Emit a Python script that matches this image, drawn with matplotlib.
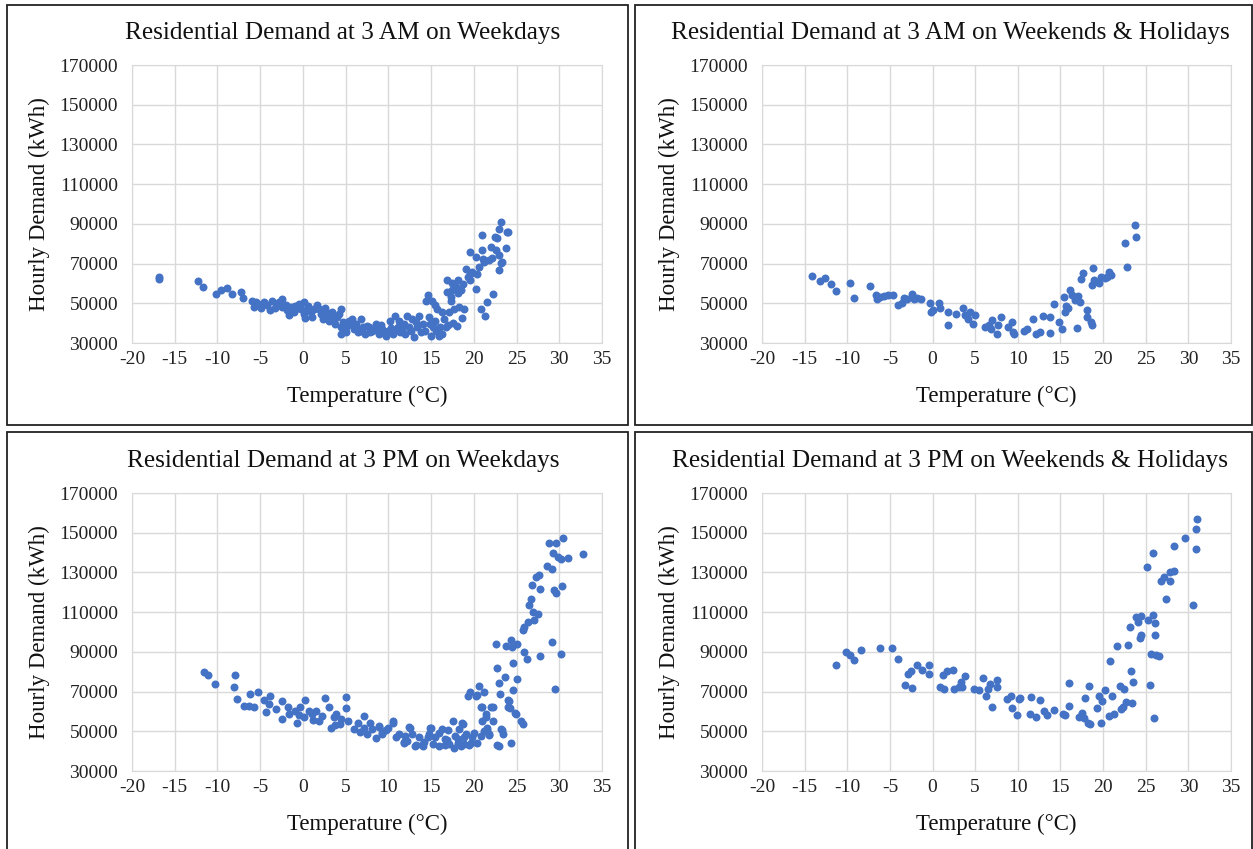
import matplotlib
matplotlib.use("Agg")
import matplotlib.pyplot as plt
from matplotlib.patches import Rectangle

# Residential demand at 3 AM on weekdays
am_wd_temp = [-16.8, -16.8, -12.3, -11.7, -10.2, -9.6, -8.9, -8.3, -7.3, -7.0,
              -5.9, -5.7, -5.2, -4.6, -3.8, -3.6, -3.0, -2.5, -2.4, -2.0,
              -1.6, -1.4, -0.9, -0.5, -0.2, 0.1, 0.1, 0.5, 0.3, 0.9,
              1.1, 1.6, 1.9, 2.1, 2.3, 2.7, 3.0, 3.2, 3.4, 3.8,
              4.0, 4.2, 4.5, 4.4, 4.5, 5.0, 5.4, 5.8, 6.0, 6.2,
              6.5, 6.8, 7.0, 7.3, 7.5, 7.9, 8.3, 8.5, 8.9, 9.3,
              9.7, 9.9, 10.2, 10.5, 10.8, 11.1, 11.4, 11.8, 12.0, 12.2,
              12.4, 12.8, 13.0, 13.4, 13.6, 13.8, 14.1, 14.4, 14.6, 14.8,
              15.0, 15.1, 15.2, 15.4, 15.5, 15.7, 15.9, 16.1, 16.3, 16.3,
              16.7, 16.9, 17.1, 16.9, 17.3, 17.5, 17.7, 17.9, 18.1, 18.3,
              18.5, 18.7, 18.9, 19.1, 19.3, 19.5, 19.6, 19.5, 20.2, 20.2,
              20.4, 20.6, 20.8, 21.0, 21.0, 21.2, 21.3, 21.6, 21.8, 22.0,
              22.3, 22.5, 22.6, 22.9, 23.0, 23.2, 23.2, 23.0, 23.8, 23.9,
              -5.5, -4.9, -4.2, -3.3, -2.8, -1.9, -1.1, -0.6, 0.6, 1.3,
              2.6, 2.9, 3.6, 4.7, 5.2, 5.6, 6.3, 6.9, 7.7, 8.1,
              8.7, 9.1, 9.5, 10.3, 10.7, 11.2, 11.6, 12.6, 13.2, 14.3,
              14.9, 15.6, 16.5, 17.0, 17.6, 18.0, 18.6, 19.8, 21.1, 22.1,
              22.7, 24.0, 23.3, 17.3, 17.5, 18.2]
am_wd_demand = [63200, 62100, 61200, 58200, 54800, 56500, 57700, 54800, 55500, 52800,
                51400, 48000, 49700, 50600, 46400, 51100, 49700, 52300, 48100, 48900,
                44200, 48100, 48400, 49700, 47200, 50600, 44700, 46400, 42700, 45500,
                43000, 48900, 47200, 44700, 42200, 45500, 41300, 43800, 45500, 39600,
                43000, 44700, 47200, 37900, 34600, 35400, 41300, 42200, 37100, 39600,
                35400, 42200, 37900, 34600, 38800, 35400, 37100, 39600, 34600, 37100,
                33700, 36200, 41300, 34600, 43800, 37900, 35400, 39600, 34600, 43800,
                37900, 42200, 32900, 37900, 43800, 35400, 39600, 51400, 54000, 43000,
                33700, 51400, 37900, 48900, 41300, 47200, 33700, 37900, 45500, 34600,
                37900, 55700, 45500, 61600, 51400, 56500, 47200, 58200, 61600, 48100,
                56500, 59900, 47200, 67500, 63300, 64900, 61600, 75900, 57300, 73400,
                64900, 68300, 47200, 84400, 76800, 70800, 43800, 50600, 71700, 78400,
                54800, 83200, 76800, 67000, 74200, 91100, 70300, 87200, 77600, 86000,
                50500, 47800, 49000, 47500, 50800, 46500, 45800, 47800, 48700, 46900,
                47800, 44000, 42300, 40800, 38500, 40000, 37000, 36000, 38000, 35800,
                36700, 39000, 35000, 37500, 35800, 41000, 36500, 36000, 40500, 35800,
                39500, 36000, 42000, 39000, 40000, 38500, 42500, 66000, 72500, 73000,
                82700, 85900, 70700, 53000, 60000, 55000]

# Residential demand at 3 AM on weekends & holidays
am_we_temp = [-14.1, -13.2, -12.6, -11.9, -11.3, -9.7, -9.2, -7.3, -6.6, -6.5,
              -6.2, -5.7, -5.2, -4.6, -4.0, -3.6, -3.3, -3.0, -2.4, -2.2,
              -1.8, -1.4, -0.3, -0.2, 0.1, 0.8, 0.9, 1.8, 1.8, 2.8,
              3.6, 3.8, 4.2, 4.4, 4.8, 5.0, 6.2, 6.6, 7.0, 6.8,
              7.5, 7.7, 8.0, 8.9, 9.3, 9.4, 9.6, 10.7, 11.1, 11.8,
              12.1, 12.6, 13.0, 13.8, 13.8, 14.2, 14.8, 15.2, 15.4, 15.5,
              15.7, 15.9, 16.1, 16.3, 16.7, 16.9, 17.1, 17.3, 17.4, 17.6,
              18.1, 18.1, 18.6, 18.7, 18.7, 18.8, 18.9, 19.5, 19.8, 20.2,
              20.4, 20.7, 20.9, 22.6, 22.8, 23.7, 23.9]
am_we_demand = [63900, 61400, 62500, 59500, 56300, 60000, 52800, 58700, 54100, 52400,
                53300, 53600, 54100, 54400, 49100, 50200, 52900, 52400, 54600, 52400,
                52900, 52300, 49900, 45700, 46500, 49900, 47400, 45700, 38900, 44800,
                47400, 44000, 42300, 45700, 39800, 44300, 38100, 38900, 41500, 37300,
                34400, 38900, 43200, 38100, 40600, 35600, 34400, 36100, 37300, 42300,
                34400, 35600, 43500, 43200, 35100, 49600, 40600, 36900, 53300, 45700,
                48500, 47400, 56600, 54100, 51600, 37800, 53600, 50400, 62000, 65400,
                46500, 43200, 40600, 38900, 59200, 67900, 61700, 60000, 63000, 62500,
                63400, 65900, 64200, 80200, 68100, 89500, 83300]

# Residential demand at 3 PM on weekdays
pm_wd_temp = [-11.6, -11.1, -10.3, -7.9, -8.1, -7.7, -6.9, -6.3, -6.2, -5.7,
              -5.2, -4.6, -4.3, -3.8, -4.0, -3.2, -2.5, -2.4, -1.8, -1.6,
              -0.9, -0.7, -0.3, 0.3, 0.1, 0.7, 1.1, 1.5, 1.9, 2.6,
              3.0, 3.3, 3.6, 3.9, 4.3, 4.5, 5.0, 5.0, 5.3, 6.0,
              6.5, 7.1, 7.2, 7.5, 7.9, 8.1, 8.9, 9.3, 9.7, 10.0,
              10.5, 10.9, 11.3, 11.8, 12.0, 12.5, 12.8, 13.1, 13.6, 14.0,
              14.6, 15.0, 15.2, 15.5, 15.9, 16.3, 16.6, 17.1, 17.6, 17.7,
              18.1, 18.3, 18.5, 18.7, 18.9, 19.1, 19.3, 19.6, 19.8, 20.2,
              20.4, 20.6, 20.8, 20.8, 21.0, 21.2, 21.2, 21.4, 21.6, 21.8,
              22.0, 22.2, 22.6, 22.7, 22.9, 23.0, 23.1, 23.2, 23.4, 23.6,
              23.8, 24.1, 24.2, 24.3, 24.4, 24.5, 24.6, 24.6, 24.9, 25.1,
              25.1, 25.7, 25.8, 25.9, 25.9, 26.2, 26.3, 26.4, 26.7, 26.8,
              26.9, 27.1, 27.3, 27.5, 27.6, 27.8, 27.8, 28.6, 28.8, 29.1,
              29.2, 29.3, 29.4, 29.5, 29.6, 29.8, 29.6, 30.2, 30.3, 30.2,
              30.4, 31.0, 32.8,
              8.9, 9.3, 10.6, 11.8, 12.4, 13.2, 13.9, 14.7, 14.9, 15.9,
              16.6, 17.0, 17.8, 18.2, 18.6, 18.8, 19.4, 20.0, 20.4, 21.0,
              21.4, 21.6, 21.8, 22.2, 22.7, 23.3, 24.0, 24.0, 24.8, 25.5,
              -0.5, 1.2, 2.2, 3.8, 6.7, 8.5, 12.2, 14.2, 16.9, 19.7]
pm_wd_demand = [79700, 78100, 73800, 78100, 72200, 66200, 62900, 62900, 68800, 62000,
                69600, 65700, 59500, 67900, 63700, 61200, 65400, 56100, 62000, 58700,
                60400, 54400, 62000, 65700, 57000, 60400, 58700, 60400, 55300, 66800,
                62000, 51600, 57000, 58700, 53600, 56100, 67100, 61700, 55300, 51100,
                54400, 57800, 51900, 48500, 54400, 51100, 52800, 48500, 50600, 51900,
                54400, 46900, 48500, 44300, 47700, 51900, 48500, 42600, 46900, 42600,
                46900, 51600, 43500, 46900, 42600, 51100, 46000, 43500, 55300, 41800,
                46000, 51100, 42600, 53600, 43500, 48500, 67900, 69600, 46900, 67900,
                44300, 73000, 62000, 47700, 55300, 69600, 50200, 58700, 51900, 48500,
                62000, 55300, 94100, 81800, 42600, 74200, 68800, 51100, 48500, 77200,
                93200, 65400, 61700, 95800, 44300, 92400, 84300, 70800, 58700, 94100,
                76200, 100800, 53900, 102500, 89900, 86500, 105000, 113500, 116800, 123900,
                110100, 105900, 127800, 109200, 128600, 121900, 87700, 133200, 144600, 94900,
                131500, 139900, 121000, 71300, 119400, 137900, 144600, 136600, 123100, 88700,
                147200, 137100, 139300,
                52300, 49000, 55000, 44800, 52300, 43100, 43100, 48500, 51800, 49000,
                43100, 50700, 47500, 44000, 54000, 47000, 43100, 49000, 68300, 62400,
                57400, 50700, 48200, 62400, 43100, 50700, 65800, 62400, 59000, 55000,
                58000, 55500, 57500, 53000, 49500, 46500, 45000, 44500, 45500, 44000]

# Residential demand at 3 PM on weekends & holidays
pm_we_temp = [-11.3, -10.2, -9.7, -9.2, -8.4, -6.2, -4.7, -4.0, -3.2, -2.9,
              -2.5, -2.4, -1.8, -1.2, -0.4, -0.4, 0.9, 1.2, 1.4, 1.7,
              2.4, 2.5, 3.1, 3.3, 3.8, 3.5, 4.9, 5.4, 5.9, 6.3,
              6.5, 6.7, 7.0, 7.6, 7.5, 8.7, 9.2, 9.3, 9.9, 10.1,
              10.3, 11.4, 11.6, 12.1, 12.6, 13.1, 13.4, 14.2, 15.3, 15.5,
              16.0, 16.0, 17.2, 17.5, 17.8, 17.9, 18.2, 18.3, 18.5, 19.3,
              19.5, 19.7, 19.9, 20.2, 20.7, 20.8, 21.0, 21.3, 21.6, 22.0,
              22.1, 22.3, 22.5, 22.7, 22.9, 23.2, 23.3, 23.4, 23.5, 23.9,
              24.1, 24.3, 24.4, 24.5, 25.1, 25.3, 25.5, 25.6, 25.8, 25.9,
              26.0, 26.1, 26.1, 26.2, 26.6, 26.8, 27.1, 27.4, 27.9, 27.9,
              28.3, 28.3, 29.6, 30.6, 30.9, 30.9, 31.0]
pm_we_demand = [83600, 89900, 88200, 86000, 91000, 91700, 91900, 86500, 73500, 78600,
                80600, 71800, 83600, 80900, 78900, 83400, 72200, 78400, 71300, 80200,
                81100, 71300, 72200, 74700, 77600, 72200, 71300, 71000, 76700, 67900,
                71300, 73800, 62000, 75900, 72500, 66200, 67900, 61500, 58300, 66200,
                66700, 58700, 67400, 57300, 65700, 60300, 58000, 60700, 58700, 58300,
                62500, 74200, 57000, 59000, 56600, 66600, 54400, 72700, 53900, 61700,
                67900, 54400, 65400, 70800, 57500, 85600, 67900, 58700, 92900, 72700,
                61200, 62400, 71300, 64600, 93600, 102500, 80600, 64100, 74700, 107600,
                105000, 96900, 98300, 107900, 132800, 106200, 73300, 89000, 108800, 139900,
                56600, 104300, 98300, 88200, 87800, 125600, 127800, 116500, 125600, 130300,
                130800, 143500, 147200, 113800, 141800, 151700, 157000]

x_ticks = list(range(-20, 36, 5))
y_ticks = list(range(30000, 170001, 20000))

titles = ["Residential Demand at 3 AM on Weekdays",
          "Residential Demand at 3 AM on Weekends & Holidays",
          "Residential Demand at 3 PM on Weekdays",
          "Residential Demand at 3 PM on Weekends & Holidays"]
x_label = "Temperature (\u00b0C)"
y_label = "Hourly Demand (kWh)"

plt.rcParams['font.family'] = ['Liberation Serif', 'DejaVu Serif']
plt.rcParams['axes.unicode_minus'] = False

W, H = 1253, 849
fig = plt.figure(figsize=(W / 100, H / 100), dpi=100)

# pixel layout: frame box, plot area, title centre x
layout = [
    ((7, 5, 628, 425), (132, 65, 602, 343), 343),
    ((635, 5, 1252, 425), (762, 65, 1231, 343), 950),
    ((7, 432, 628, 852), (132, 493, 602, 771), 343),
    ((635, 432, 1252, 852), (762, 493, 1231, 771), 950),
]
series = [(am_wd_temp, am_wd_demand), (am_we_temp, am_we_demand),
          (pm_wd_temp, pm_wd_demand), (pm_we_temp, pm_we_demand)]

for (frame, area, tx), (temp, demand), title in zip(layout, series, titles):
    fx0, fy0, fx1, fy1 = frame
    fig.add_artist(Rectangle((fx0 / W, 1 - fy1 / H), (fx1 - fx0) / W, (fy1 - fy0) / H,
                             transform=fig.transFigure, fill=False,
                             edgecolor='#222222', linewidth=1.3))
    x0, y0, x1, y1 = area
    ax = fig.add_axes([x0 / W, 1 - y1 / H, (x1 - x0) / W, (y1 - y0) / H])
    ax.scatter(temp, demand, s=33, color='#4472C4', zorder=3, linewidths=0)
    ax.set_xlim(-20, 35)
    ax.set_ylim(30000, 170000)
    ax.set_xticks(x_ticks)
    ax.set_yticks(y_ticks)
    ax.grid(True, color='#d9d9d9', linewidth=1.0)
    ax.set_axisbelow(True)
    for sp in ax.spines.values():
        sp.set_color('#d9d9d9')
    ax.tick_params(length=0, labelsize=14, colors='#222222')
    ax.tick_params(axis='x', pad=6)
    ax.tick_params(axis='y', pad=10)

    fig.text(tx / W, 1 - (y0 - 32) / H, title, ha='center', va='center',
             fontsize=18.2, color='#111111')
    fig.text((x0 + x1) / 2 / W, 1 - (y1 + 53) / H, x_label, ha='center',
             va='center', fontsize=16.5, color='#111111')
    fig.text((x0 - 93) / W, 1 - (y0 + y1) / 2 / H, y_label, ha='center',
             va='center', rotation=90, fontsize=16.5, color='#111111')

fig.savefig("out.png", dpi=100)
